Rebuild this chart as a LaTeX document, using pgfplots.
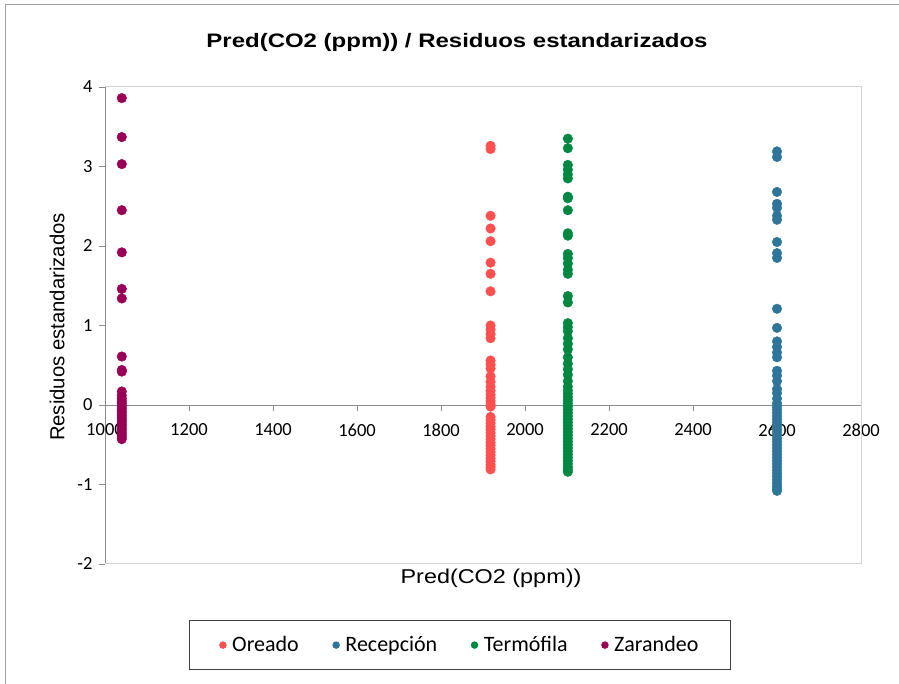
\documentclass[border=0pt]{standalone}
\usepackage{fontspec}
\setmainfont{Carlito}
\newfontfamily\arial{Liberation Sans}
\usepackage{pgfplots}
\pgfplotsset{compat=1.18}
\definecolor{cOre}{RGB}{255,80,80}
\definecolor{cRec}{RGB}{46,117,153}
\definecolor{cTer}{RGB}{0,135,65}
\definecolor{cZar}{RGB}{153,0,85}
\definecolor{frame}{RGB}{160,160,160}
\definecolor{axln}{RGB}{140,140,140}
\definecolor{plotbd}{RGB}{210,210,210}
\begin{document}
\begin{tikzpicture}[x=1pt,y=1pt]
\useasboundingbox (0,0) rectangle (899,684);
\draw[frame, line width=1pt] (5,0) -- (5,679) -- (899,679);
\node[font=\arial\bfseries\fontsize{19.5}{22}\selectfont, xscale=1.23] at (457,642) {Pred(CO2 (ppm)) / Residuos estandarizados};
\begin{axis}[
    at={(105pt,120pt)}, anchor=south west,
    width=756pt, height=477pt, scale only axis,
    xmin=1000, xmax=2800, ymin=-2, ymax=4,
    axis x line=middle, axis y line=left,
    axis line style={-, axln, line width=0.8pt},
    hide obscured x ticks=false, hide obscured y ticks=false,
    xtick={1000,1200,...,2800}, ytick={-2,-1,...,4},
    xticklabel style={yshift=-9pt},
    yticklabel style={xshift=-3pt},
    tick align=outside, major tick length=6pt,
    tick style={axln, line width=0.8pt},
    ticklabel style={font=\fontsize{18.5}{20}\selectfont},
    /pgf/number format/assume math mode=true,
    /pgf/number format/1000 sep={},
    clip=false,
    legend columns=4,
    legend style={at={(0.4696,-0.170)}, anchor=center, draw=black!75, line width=0.8pt,
        font=\fontsize{22}{24}\selectfont, inner xsep=30pt, inner ysep=14pt,
        /tikz/every odd column/.append style={column sep=4pt},
        /tikz/every even column/.append style={column sep=32pt}},
    legend image post style={mark size=3.3pt},
    mark size=4.8pt,
]
\draw[plotbd, line width=1pt] (rel axis cs:0,1) -- (rel axis cs:1,1) -- (rel axis cs:1,0) -- (rel axis cs:0,0);
\addplot[only marks, mark=*, color=cOre] coordinates {
(1918,3.26) (1918,3.22) (1918,2.38) (1918,2.22) (1918,2.06) (1918,1.79) (1918,1.65) (1918,1.43)
(1918,1.00) (1918,0.95) (1918,0.89) (1918,0.84) (1918,0.56) (1918,0.51) (1918,0.46) (1918,0.36)
(1918,0.29) (1918,0.23) (1918,0.18) (1918,0.13) (1918,0.09) (1918,0.05) (1918,0.01) (1918,-0.02)
(1918,-0.15) (1918,-0.19) (1918,-0.23) (1918,-0.27) (1918,-0.31) (1918,-0.35) (1918,-0.39) (1918,-0.43)
(1918,-0.47) (1918,-0.51) (1918,-0.55) (1918,-0.59) (1918,-0.63) (1918,-0.67) (1918,-0.71) (1918,-0.75)
(1918,-0.78) (1918,-0.81)
};
\addlegendentry{Oreado}
\addplot[only marks, mark=*, color=cRec] coordinates {
(2600,3.19) (2600,3.12) (2600,2.68) (2600,2.53) (2600,2.48) (2600,2.38) (2600,2.33) (2600,2.05)
(2600,1.91) (2600,1.85) (2600,1.21) (2600,0.97) (2600,0.80) (2600,0.73) (2600,0.66) (2600,0.60)
(2600,0.43) (2600,0.37) (2600,0.30) (2600,0.20) (2600,0.15) (2600,0.08) (2600,0.02) (2600,-0.02)
(2600,-0.06) (2600,-0.10) (2600,-0.14) (2600,-0.18) (2600,-0.22) (2600,-0.26) (2600,-0.30) (2600,-0.34)
(2600,-0.38) (2600,-0.42) (2600,-0.46) (2600,-0.50) (2600,-0.54) (2600,-0.58) (2600,-0.62) (2600,-0.66)
(2600,-0.70) (2600,-0.74) (2600,-0.78) (2600,-0.82) (2600,-0.86) (2600,-0.90) (2600,-0.94) (2600,-0.98)
(2600,-1.02) (2600,-1.05) (2600,-1.08)
};
\addlegendentry{Recepción}
\addplot[only marks, mark=*, color=cTer] coordinates {
(2102,3.35) (2102,3.23) (2102,3.02) (2102,2.96) (2102,2.90) (2102,2.85) (2102,2.62) (2102,2.60)
(2102,2.45) (2102,2.16) (2102,2.13) (2102,1.90) (2102,1.85) (2102,1.78) (2102,1.70) (2102,1.65)
(2102,1.37) (2102,1.29) (2102,1.03) (2102,0.98) (2102,0.93) (2102,0.84) (2102,0.77) (2102,0.70)
(2102,0.60) (2102,0.52) (2102,0.45) (2102,0.38) (2102,0.30) (2102,0.23) (2102,0.18) (2102,0.14)
(2102,0.10) (2102,0.06) (2102,0.02) (2102,-0.02) (2102,-0.06) (2102,-0.10) (2102,-0.14) (2102,-0.18)
(2102,-0.22) (2102,-0.26) (2102,-0.30) (2102,-0.34) (2102,-0.38) (2102,-0.42) (2102,-0.46) (2102,-0.50)
(2102,-0.54) (2102,-0.58) (2102,-0.62) (2102,-0.66) (2102,-0.70) (2102,-0.74) (2102,-0.78) (2102,-0.81)
(2102,-0.84)
};
\addlegendentry{Termófila}
\addplot[only marks, mark=*, color=cZar] coordinates {
(1040,3.86) (1040,3.37) (1040,3.03) (1040,2.45) (1040,1.92) (1040,1.46) (1040,1.34) (1040,0.61)
(1040,0.44) (1040,0.42) (1040,0.17) (1040,0.12) (1040,0.08) (1040,0.05) (1040,0.02) (1040,-0.01)
(1040,-0.04) (1040,-0.07) (1040,-0.10) (1040,-0.13) (1040,-0.16) (1040,-0.19) (1040,-0.22) (1040,-0.25)
(1040,-0.28) (1040,-0.31) (1040,-0.34) (1040,-0.37) (1040,-0.40) (1040,-0.43)
};
\addlegendentry{Zarandeo}
\end{axis}
\node[font=\arial\fontsize{20}{22}\selectfont, xscale=1.17] at (491,106) {Pred(CO2 (ppm))};
\node[font=\arial\fontsize{20.3}{22}\selectfont, rotate=90] at (57,357) {Residuos estandarizados};
\end{tikzpicture}
\end{document}
